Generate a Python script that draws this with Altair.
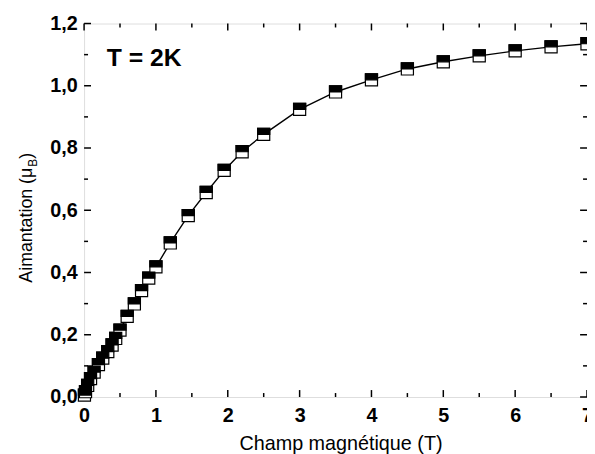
import altair as alt
import pandas as pd

# Data
field = [0.005, 0.02, 0.05, 0.09, 0.14, 0.2, 0.26, 0.33, 0.39, 0.44, 0.5, 0.6, 0.7, 0.8, 0.9, 1.0,
         1.2, 1.45, 1.7, 1.95, 2.2, 2.5, 3.0, 3.5, 4.0, 4.5, 5.0, 5.5, 6.0, 6.5, 7.0]
magn = [0.006, 0.017, 0.037, 0.059, 0.080, 0.104, 0.125, 0.146, 0.167, 0.188, 0.215, 0.259, 0.299,
        0.342, 0.382, 0.418, 0.495, 0.583, 0.657, 0.728, 0.788, 0.844, 0.924, 0.980, 1.019, 1.054,
        1.077, 1.096, 1.112, 1.125, 1.135]

x_major = [0, 1, 2, 3, 4, 5, 6, 7]
x_minor = [0.5, 1.5, 2.5, 3.5, 4.5, 5.5, 6.5]
y_major = [0.0, 0.2, 0.4, 0.6, 0.8, 1.0, 1.2]
y_minor = [0.1, 0.3, 0.5, 0.7, 0.9, 1.1]

x_title = "Champ magnétique (T)"
y_title_main = "Aimantation (μ"
y_title_sub = "B"
y_title_end = ")"
annotation = "T = 2K"

W, H = 509, 378
FONT = "Liberation Sans"

df = pd.DataFrame({"field": field, "magn": magn})

xs = alt.Scale(domain=[0, 7], nice=False, zero=False)
ys = alt.Scale(domain=[0, 1.2], nice=False, zero=False)

line = alt.Chart(df).mark_line(color="black", strokeWidth=1.4).encode(
    x=alt.X("field:Q", scale=xs,
            axis=alt.Axis(values=x_major, title=None, ticks=False, domain=False, grid=False,
                          labelFont=FONT, labelFontSize=20, labelFontWeight="bold",
                          labelColor="black", labelPadding=9, labelFlush=False,
                          labelOverlap=False, labelBound=False,
                          labelExpr="format(datum.value, 'd')")),
    y=alt.Y("magn:Q", scale=ys,
            axis=alt.Axis(values=y_major, title=None, ticks=False, domain=False, grid=False,
                          labelFont=FONT, labelFontSize=20, labelFontWeight="bold",
                          labelColor="black", labelPadding=7, labelFlush=False,
                          labelOverlap=False, labelBound=False,
                          labelExpr="replace(format(datum.value, '.1f'), '.', ',')")),
)

open_sq = alt.Chart(df).mark_point(shape="square", size=150, filled=True, fill="white",
                                   stroke="black", strokeWidth=1.2, opacity=1).encode(
    x=alt.X("field:Q", scale=xs), y=alt.Y("magn:Q", scale=ys))

half_sq = alt.Chart(df).mark_point(shape="M-1,-1H1V0H-1Z", size=150, filled=True, fill="black",
                                   stroke="black", strokeWidth=1.2, opacity=1).encode(
    x=alt.X("field:Q", scale=xs), y=alt.Y("magn:Q", scale=ys))

def xticks(vals, length, top):
    d = pd.DataFrame({"v": vals})
    if top:
        yv, y2v = 0, length
    else:
        yv, y2v = H, H - length
    return alt.Chart(d).mark_rule(color="black", strokeWidth=1.5).encode(
        x=alt.X("v:Q", scale=xs), y=alt.value(yv), y2=alt.value(y2v))

def yticks(vals, length, right):
    d = pd.DataFrame({"v": vals})
    if right:
        xv, x2v = W, W - length
    else:
        xv, x2v = 0, length
    return alt.Chart(d).mark_rule(color="black", strokeWidth=1.5).encode(
        y=alt.Y("v:Q", scale=ys), x=alt.value(xv), x2=alt.value(x2v))

ticks = [
    xticks(x_major, 7, False), xticks(x_minor, 4, False),
    xticks(x_major, 7, True), xticks(x_minor, 4, True),
    yticks(y_major, 7, False), yticks(y_minor, 4, False),
    yticks(y_major, 7, True), yticks(y_minor, 4, True),
]

one = pd.DataFrame({"a": [0]})

ann = alt.Chart(one).mark_text(text=annotation, font=FONT, fontSize=25, fontWeight="bold",
                               align="left", baseline="alphabetic", color="black").encode(
    x=alt.value(23), y=alt.value(43))

xt = alt.Chart(one).mark_text(text=x_title, font=FONT, fontSize=20, align="center",
                              baseline="alphabetic", color="black").encode(
    x=alt.value(260), y=alt.value(432))

yt1 = alt.Chart(one).mark_text(text=y_title_main, font=FONT, fontSize=18, align="right",
                               baseline="alphabetic", angle=270, color="black").encode(
    x=alt.value(-53), y=alt.value(146))
yt2 = alt.Chart(one).mark_text(text=y_title_sub, font=FONT, fontSize=12, align="left",
                               baseline="alphabetic", angle=270, color="black").encode(
    x=alt.value(-48), y=alt.value(145))
yt3 = alt.Chart(one).mark_text(text=y_title_end, font=FONT, fontSize=18, align="left",
                               baseline="alphabetic", angle=270, color="black").encode(
    x=alt.value(-53), y=alt.value(137))

chart = alt.layer(line, *ticks, open_sq, half_sq, ann, xt, yt1, yt2, yt3).properties(
    width=W, height=H,
    padding={"left": 77, "top": 13, "right": 0, "bottom": 55},
    autosize="none",
).configure_view(stroke="black", strokeWidth=2).configure(background="white")

chart.save("out.html", embed_options={"renderer": "svg", "actions": False})
